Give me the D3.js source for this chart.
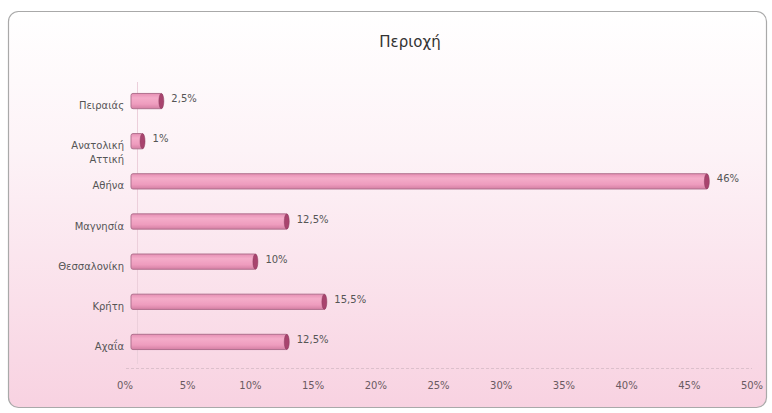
<!DOCTYPE html>
<html><head><meta charset="utf-8">
<script src="https://cdn.jsdelivr.net/npm/d3@7"></script>
<style>html,body{margin:0;padding:0;background:#fff}svg{display:block}</style>
</head><body>
<script>
const categories = ["Πειραιάς", "Ανατολική Αττική", "Αθήνα", "Μαγνησία", "Θεσσαλονίκη", "Κρήτη", "Αχαΐα"];
const values = [2.5, 1, 46, 12.5, 10, 15.5, 12.5];
const valueLabels = ["2,5%", "1%", "46%", "12,5%", "10%", "15,5%", "12,5%"];
const ticks = [0, 5, 10, 15, 20, 25, 30, 35, 40, 45, 50];
const title = "Περιοχή";

const W = 772, H = 413;
const svg = d3.select("body").append("svg").attr("width", W).attr("height", H);
const defs = svg.append("defs");
const bg = defs.append("linearGradient").attr("id", "bg").attr("x1", 0).attr("y1", 0).attr("x2", 0).attr("y2", 1);
bg.append("stop").attr("offset", "0%").attr("stop-color", "#ffffff");
bg.append("stop").attr("offset", "35%").attr("stop-color", "#fdf3f7");
bg.append("stop").attr("offset", "100%").attr("stop-color", "#f8d2e1");
const bar = defs.append("linearGradient").attr("id", "bar").attr("x1", 0).attr("y1", 0).attr("x2", 0).attr("y2", 1);
bar.append("stop").attr("offset", "0%").attr("stop-color", "#e690b4");
bar.append("stop").attr("offset", "30%").attr("stop-color", "#f4acc9");
bar.append("stop").attr("offset", "70%").attr("stop-color", "#ee9cbe");
bar.append("stop").attr("offset", "100%").attr("stop-color", "#d47fa3");

svg.append("rect").attr("x", 8.5).attr("y", 11.5).attr("width", 758).attr("height", 396)
  .attr("rx", 10).attr("fill", "url(#bg)").attr("stroke", "#a9a9a9").attr("stroke-width", 1.2);

svg.append("text").attr("x", 410).attr("y", 47).attr("text-anchor", "middle")
  .attr("font-family", "DejaVu Sans, Verdana, sans-serif").attr("font-size", 15).attr("fill", "#333")
  .text(title);

const x = d3.scaleLinear().domain([0, 50]).range([131, 758]);
const y = d3.scaleBand().domain(categories).range([81, 362]).paddingInner(0.62).paddingOuter(0.31);

const font = "DejaVu Sans, Verdana, sans-serif";

// vertical axis line & baseline
svg.append("line").attr("x1", 137.5).attr("x2", 137.5).attr("y1", 82).attr("y2", 364)
  .attr("stroke", "#eccfdb").attr("stroke-width", 1);
svg.append("line").attr("x1", 126).attr("x2", 752).attr("y1", 368.5).attr("y2", 368.5)
  .attr("stroke", "#dcc0cc").attr("stroke-width", 1).attr("stroke-dasharray", "3,2");

// x tick labels
svg.append("g").selectAll("text").data(ticks).join("text")
  .attr("x", d => x(d) - 6).attr("y", 389).attr("text-anchor", "middle")
  .attr("font-family", font).attr("font-size", 10).attr("fill", "#6a5a62")
  .text(d => d + "%");

// bars
const g = svg.append("g");
const bh = y.bandwidth();
g.selectAll("rect.b").data(categories).join("rect").attr("class", "b")
  .attr("x", x(0)).attr("y", d => y(d))
  .attr("width", (d, i) => x(values[i]) - x(0)).attr("height", bh)
  .attr("rx", 2)
  .attr("fill", "url(#bar)").attr("stroke", "#b0708e").attr("stroke-width", 1);
g.selectAll("ellipse.c").data(categories).join("ellipse").attr("class", "c")
  .attr("cx", (d, i) => x(values[i]) - 1).attr("cy", d => y(d) + bh / 2)
  .attr("rx", 2.5).attr("ry", bh / 2)
  .attr("fill", "#a8446e").attr("stroke", "#8a3a5c").attr("stroke-width", 0.5);

// value labels
g.selectAll("text.v").data(categories).join("text").attr("class", "v")
  .attr("x", (d, i) => x(values[i]) + 9).attr("y", d => y(d) + bh / 2 + 1)
  .attr("font-family", font).attr("font-size", 10).attr("fill", "#555")
  .text((d, i) => valueLabels[i]);

// category labels
const cl = svg.append("g").selectAll("text").data(categories).join("text")
  .attr("x", 124).attr("y", d => y(d) + bh / 2 + 8)
  .attr("text-anchor", "end").attr("font-family", font).attr("font-size", 10).attr("fill", "#555");
cl.each(function(d) {
  const t = d3.select(this);
  const parts = d.split(" ");
  if (parts.length > 1) {
    t.attr("y", y(d) + bh / 2 + 8);
    parts.forEach((p, k) => t.append("tspan").attr("x", 124).attr("dy", k === 0 ? 0 : 14).text(p));
  } else t.text(d);
});
</script>
</body></html>
